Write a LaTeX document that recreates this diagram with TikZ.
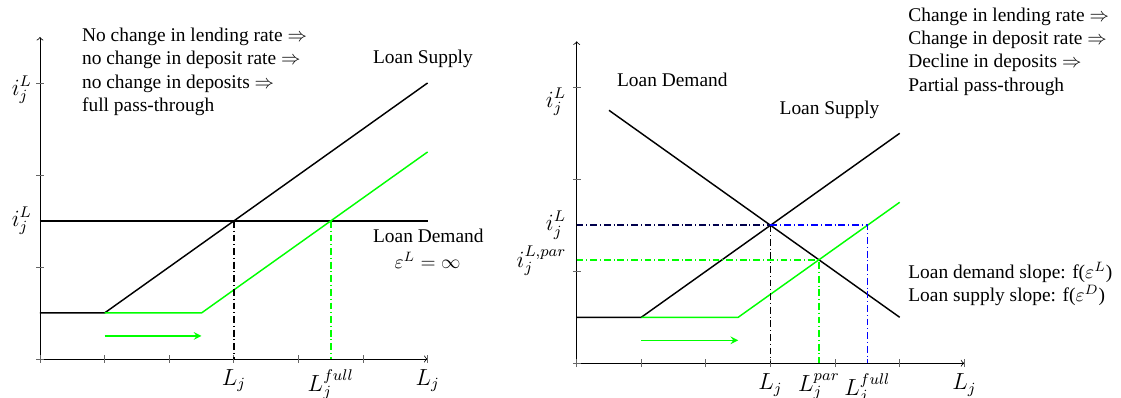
\documentclass[tikz,border=0pt]{standalone}
\usepackage[no-math]{fontspec}
\setmainfont{Liberation Serif}
\usetikzlibrary{arrows}
\begin{document}
\begin{tikzpicture}[x=33.27pt, y=47.38pt,
    axis/.style={->, thin},
    tickmark/.style={thin, black!60},
    curve/.style={line width=0.75pt},
    shifted/.style={line width=0.75pt, green},
    guide/.style={line width=0.85pt, dash pattern=on 3.5pt off 1.5pt on 0.5pt off 1.5pt},
    shiftarrow/.style={->, >=stealth, line width=0.75pt, green},
    ratelbl/.style={anchor=east, inner sep=0pt, font=\large},
    qtylbl/.style={anchor=north, inner sep=0pt, font=\large},
    curvelbl/.style={anchor=base west, inner sep=0pt},
    note/.style={anchor=north west, align=left, inner sep=0pt},
]
\useasboundingbox (-0.619,-0.424) rectangle (16.734,3.902);

% full pass-through
\draw[axis] (0,0) -- (6,0);
\draw[axis] (0,0) -- (0,3.5);
\foreach \x in {0,...,6} \draw[tickmark] (\x,0) ++(0,-2pt) -- ++(0,4pt);
\foreach \y in {0,...,3} \draw[tickmark] (0,\y) ++(-2pt,0) -- ++(4pt,0);
\coordinate (eqA) at (3,1.5);
\coordinate (fullA) at (4.5,1.5);
\draw[curve] (0,0.5) -- (1,0.5) -- (6,3);
\draw[curve] (0,1.5) -- (6,1.5);
\draw[shifted] (1,0.5) -- (2.5,0.5) -- (6,2.25);
\draw[shiftarrow] (1,0.25) -- (2.5,0.25);
\draw[guide] (eqA) -- (eqA |- 0,0);
\draw[guide, green] (fullA) -- (fullA |- 0,0);
\node[ratelbl] (rateA) at (-0.12,2.924) {$i_j^L$};
\node[ratelbl] (rateeqA) at (-0.12,1.5) {$i_j^L$};
\node[qtylbl] (qeqA) at (3,-0.11) {$L_j$};
\node[qtylbl] (qfullA) at (4.5,-0.11) {$L_j^{full}$};
\node[qtylbl] (qaxisA) at (6,-0.11) {$L_j$};
\node[note] (storyA) at (0.646,3.601) {No change in lending rate $\Rightarrow$\\ no change in deposit rate $\Rightarrow$\\ no change in deposits $\Rightarrow$\\ full pass-through};
\node[curvelbl] (supplyA) at (5.150,3.207) {Loan Supply};
\node[curvelbl] (demandA) at (5.150,1.266) {Loan Demand};
\node[anchor=base, inner sep=0pt] (elastA) at (6,0.984) {$\varepsilon^L=\infty$};

% partial pass-through
\begin{scope}[shift={(8.308,-0.047)}]
\draw[axis] (0,0) -- (6,0);
\draw[axis] (0,0) -- (0,3.5);
\foreach \x in {0,...,6} \draw[tickmark] (\x,0) ++(0,-2pt) -- ++(0,4pt);
\foreach \y in {0,...,3} \draw[tickmark] (0,\y) ++(-2pt,0) -- ++(4pt,0);
\coordinate (eqB) at (3,1.5);
\coordinate (parB) at (3.75,1.125);
\coordinate (fullB) at (4.5,1.5);
\draw[curve] (0,0.5) -- (1,0.5) -- (5,2.5);
\draw[curve] (0.5,2.75) -- (5,0.5);
\draw[shifted] (1,0.5) -- (2.5,0.5) -- (5,1.75);
\draw[shiftarrow] (1,0.25) -- (2.5,0.25);
\draw[guide, blue!30!black] (0,1.5) -- (eqB);
\draw[guide] (eqB) -- (eqB |- 0,0);
\draw[guide, blue] (eqB) -- (fullB) -- (fullB |- 0,0);
\draw[guide, green] (0,1.125) -- (parB) -- (parB |- 0,0);
\node[ratelbl] (rateB) at (-0.16,2.84) {$i_j^L$};
\node[ratelbl] (rateeqB) at (-0.16,1.5) {$i_j^L$};
\node[ratelbl] (rateparB) at (-0.155,1.112) {$i_j^{L,par}$};
\node[qtylbl] (qeqB) at (3,-0.11) {$L_j$};
\node[qtylbl] (qparB) at (3.75,-0.11) {$L_j^{par}$};
\node[qtylbl] (qfullB) at (4.5,-0.11) {$L_j^{full}$};
\node[qtylbl] (qaxisB) at (6,-0.11) {$L_j$};
\node[curvelbl] (demandB) at (0.619,3.014) {Loan Demand};
\node[curvelbl] (supplyB) at (3.136,2.699) {Loan Supply};
\node[note] (storyB) at (5.128,3.868) {Change in lending rate $\Rightarrow$\\ Change in deposit rate $\Rightarrow$\\ Decline in deposits $\Rightarrow$\\ Partial pass-through};
\node[note] (slopeB) at (5.128,1.104) {Loan demand slope: f($\varepsilon^L$)\\ Loan supply slope: f($\varepsilon^D$)};
\end{scope}
\end{tikzpicture}
\end{document}
